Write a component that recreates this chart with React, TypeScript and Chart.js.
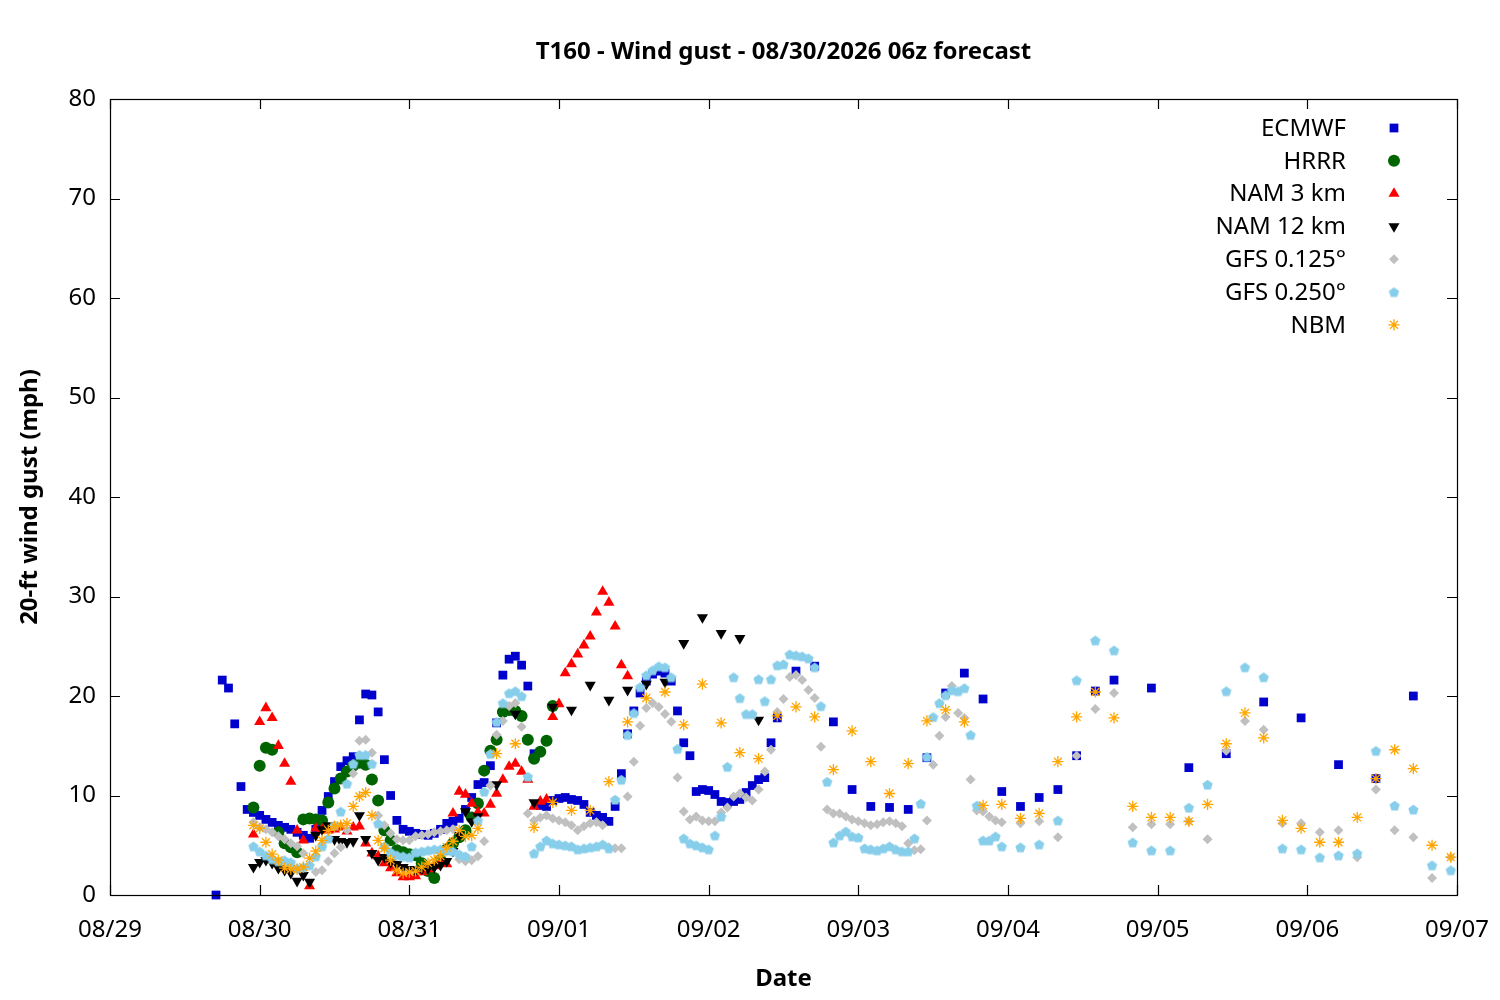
import React, { useEffect, useRef } from "react";
import { Chart, registerables } from "chart.js";
import { drawPoint } from "chart.js/helpers";

Chart.register(...registerables);

// hours since 08/29 00:00 on the x axis, one tick label per day
const dateLabels = ["08/29", "08/30", "08/31", "09/01", "09/02", "09/03", "09/04", "09/05", "09/06", "09/07"];
const yTickValues = [0, 10, 20, 30, 40, 50, 60, 70, 80];

// ECMWF: hourly from h17, 3-hourly from h110, 6-hourly from h167
const ecmwfHourly = [
	0, 21.6, 20.8, 17.2, 10.9, 8.6,
	8.3, 8.0, 7.6, 7.3, 7.0, 6.8, 6.6, 6.3, 6.0, 5.7,
	6.6, 8.5, 9.9, 11.4, 12.9, 13.5, 13.9, 17.6, 20.2, 20.1,
	18.4, 13.6, 10.0, 7.5, 6.6, 6.4, 6.2, 6.1, 6.0, 6.2,
	6.6, 7.2, 7.4, 7.7, 8.6, 9.8, 11.1, 11.3, 13.0, 17.3,
	22.1, 23.7, 24.0, 23.1, 21.0, 14.2, 9.0, 8.9, 9.5, 9.7,
	9.8, 9.6, 9.5, 9.1, 8.3, 8.0, 7.8, 7.4, 8.9, 12.2,
	16.2, 18.5, 20.3, 21.5, 22.2, 22.5, 22.3, 21.5, 18.5, 15.3,
	14.0, 10.4, 10.6, 10.5, 10.1, 9.4, 9.3, 9.4, 9.6, 10.3,
	11.0, 11.6, 11.8, 15.3, 17.8,
];
const ecmwf3h = [22.5, 23.0, 17.4, 10.6, 8.9, 8.8, 8.6, 13.8, 20.3, 22.3, 19.7, 10.4, 8.9, 9.8, 10.6, 14.0, 20.5, 21.6];
const ecmwf6h = [20.8, 12.8, 14.2, 19.4, 17.8, 13.1, 11.7, 20.0];

// HRRR: hourly from h23
const hrrrHourly = [
	8.8, 13.0, 14.8, 14.6, 6.3, 5.2, 4.8, 4.3, 7.6, 7.7,
	7.6, 7.5, 9.3, 10.7, 11.7, 12.4, 13.0, 13.3, 13.1, 11.6,
	9.5, 6.5, 5.5, 4.5, 4.3, 4.1, 4.0, 3.2, 2.4, 1.7,
	3.5, 4.6, 5.2, 5.8, 6.5, 7.8, 9.2, 12.5, 14.5, 15.6,
	18.4, 18.6, 18.5, 18.0, 15.6, 13.7, 14.4, 15.5, 19.0,
];

// NAM 3 km: hourly from h23
const nam3Hourly = [
	6.1, 17.4, 18.8, 17.8, 15.0, 13.2, 11.4, 6.5, 5.5, 0.9,
	6.7, 6.6, 6.5, 6.6, 6.8, 6.4, 6.8, 6.9, 5.2, 4.2,
	3.9, 3.2, 2.7, 2.2, 1.8, 1.8, 1.9, 2.3, 2.6, 2.9,
	3.2, 3.1, 8.2, 10.4, 10.1, 9.2, 8.3, 8.2, 9.1, 10.2,
	11.6, 12.9, 13.2, 12.4, 11.6, 8.9, 9.4, 9.6, 17.9, 19.2,
	22.3, 23.2, 24.2, 25.1, 26.0, 28.4, 30.5, 29.4, 27.0, 23.1,
	22.0,
];

// NAM 12 km: hourly from h23, 3-hourly from h62
const nam12Hourly = [
	2.8, 3.3, 3.5, 3.2, 2.7, 2.5, 2.2, 1.4, 2.0, 1.3,
	6.0, 6.6, 7.0, 5.6, 5.4, 5.3, 5.4, 8.0, 5.6, 4.2,
	3.5, 3.8, 3.3, 3.1, 2.8, 2.6, 2.5, 2.6, 2.7, 2.8,
	3.0, 3.4, 4.4, 6.0, 8.4, 7.4, 7.9,
];
const nam12_3h = [11.1, 18.2, 9.3, 18.9, 18.6, 21.1, 19.6, 20.6, 21.2, 21.4, 25.3, 27.9, 26.3, 25.8, 17.6];

// GFS 0.125°: hourly from h23, 3-hourly from h146
const gfs125Hourly = [
	7.3, 6.8, 6.6, 6.3, 5.9, 5.6, 5.2, 4.9, 4.2, 3.0,
	2.3, 2.5, 3.4, 4.2, 4.8, 6.5, 12.2, 15.5, 15.6, 14.3,
	8.0, 7.0, 6.2, 5.6, 5.5, 5.5, 5.9, 6.0, 6.1, 6.3,
	6.4, 6.5, 6.6, 3.6, 3.4, 3.5, 3.9, 5.4, 11.0, 16.1,
	17.5, 19.0, 19.3, 16.9, 8.2, 7.5, 7.8, 8.0, 7.7, 7.5,
	7.3, 7.0, 6.5, 6.9, 7.2, 7.3, 7.0, 4.8, 4.7, 4.7,
	9.9, 13.4, 17.0, 18.8, 19.3, 18.9, 18.2, 17.4, 11.8, 8.4,
	7.6, 7.9, 7.5, 7.4, 7.4, 8.3, 8.8, 9.9, 10.2, 9.8,
	9.5, 10.6, 12.4, 14.6, 18.4, 19.7, 21.9, 22.1, 21.6, 20.6,
	19.8, 14.9, 8.6, 8.2, 8.2, 7.9, 7.6, 7.4, 7.2, 7.0,
	7.1, 7.3, 7.4, 7.2, 6.9, 5.2, 4.5, 4.6, 7.5, 13.1,
	16.0, 17.9, 21.0, 18.3, 17.8, 11.6, 8.5, 8.4, 7.9, 7.5,
	7.3,
];
const gfs125_3h = [7.2, 7.4, 5.8, 14.0, 18.7, 20.3, 6.8, 7.1, 7.1, 7.4, 5.6, 14.5, 17.5, 16.6, 7.2, 7.2, 6.3, 6.5, 3.8, 10.6, 6.5, 5.8, 1.7, 3.8];

// GFS 0.250°: hourly from h23, 3-hourly from h146
const gfs250Hourly = [
	4.9, 4.4, 4.0, 3.6, 3.4, 3.5, 3.3, 2.7, 2.8, 3.0,
	3.9, 4.9, 5.7, 7.0, 8.4, 11.2, 13.2, 14.1, 14.1, 13.2,
	7.2, 4.9, 4.3, 4.0, 3.9, 3.8, 4.3, 4.4, 4.5, 4.6,
	4.6, 4.5, 4.4, 4.1, 3.9, 4.9, 7.5, 10.4, 14.2, 17.4,
	19.3, 20.3, 20.5, 20.0, 11.9, 4.2, 4.9, 5.5, 5.2, 5.1,
	5.0, 4.9, 4.6, 4.7, 4.8, 4.9, 5.1, 4.7, 9.6, 11.6,
	16.1, 18.3, 20.9, 22.1, 22.6, 23.0, 22.9, 21.9, 14.7, 5.7,
	5.2, 5.0, 4.8, 4.6, 6.0, 7.9, 12.9, 21.9, 19.8, 18.2,
	18.2, 21.7, 19.5, 21.7, 23.1, 23.2, 24.2, 24.1, 24.0, 23.8,
	22.9, 19.0, 11.4, 5.3, 6.0, 6.4, 5.9, 5.8, 4.7, 4.6,
	4.5, 4.7, 4.9, 4.6, 4.4, 4.4, 5.7, 9.2, 13.9, 17.9,
	19.3, 20.1, 20.6, 20.5, 20.8, 16.1, 9.0, 5.5, 5.5, 5.9,
	4.9,
];
const gfs250_3h = [4.8, 5.1, 7.5, 21.6, 25.6, 24.6, 5.3, 4.5, 4.5, 8.8, 11.1, 20.5, 22.9, 21.9, 4.7, 4.6, 3.8, 4.0, 4.2, 14.5, 9.0, 8.6, 3.0, 2.5];

// NBM: hourly from h23, 3-hourly from h62
const nbmHourly = [
	7.0, 6.7, 5.3, 4.1, 3.5, 2.7, 2.6, 2.6, 2.8, 3.7,
	4.4, 5.5, 6.5, 6.9, 7.0, 7.2, 8.9, 9.9, 10.3, 8.0,
	5.5, 4.7, 3.5, 2.5, 2.2, 2.3, 2.4, 2.8, 3.2, 3.5,
	3.9, 4.8, 5.4, 6.5, 5.9, 6.0, 6.7,
];
const nbm3h = [
	14.2, 15.2, 6.8, 9.3, 8.5, 8.5, 11.4, 17.4, 19.8, 20.4,
	17.1, 21.2, 17.3, 14.3, 13.7, 18.0, 18.9, 17.9, 12.6, 16.5,
	13.4, 10.2, 13.2, 17.5, 18.6, 17.4, 9.0, 9.1, 7.7, 8.2,
	13.4, 17.9, 20.4, 17.8, 8.9, 7.8, 7.8, 7.4, 9.1, 15.2,
	18.3, 15.8, 7.5, 6.7, 5.3, 5.3, 7.8, 11.7, 14.6, 12.7,
	5.0, 3.8,
];

const seg = (start: number, step: number, values: number[]) =>
	values.map((v, i) => ({ x: start + i * step, y: v }));

const FONT = "'Noto Sans', 'Open Sans', sans-serif";

function makePentagon(color: string, r: number): HTMLCanvasElement {
	const c = document.createElement("canvas");
	const s = Math.ceil(r * 2) + 2;
	c.width = s;
	c.height = s;
	const ctx = c.getContext("2d");
	if (ctx) {
		ctx.fillStyle = color;
		ctx.beginPath();
		for (let i = 0; i < 5; i++) {
			const a = -Math.PI / 2 + (i * 2 * Math.PI) / 5;
			ctx.lineTo(s / 2 + r * Math.cos(a), s / 2 + 0.6 + r * Math.sin(a));
		}
		ctx.closePath();
		ctx.fill();
	}
	return c;
}

const App: React.FC = () => {
	const chartRef = useRef<HTMLCanvasElement>(null);
	const chartInstance = useRef<Chart | null>(null);

	useEffect(() => {
		document.body.style.margin = "0";
		if (!chartRef.current) return;
		if (chartInstance.current) chartInstance.current.destroy();

		const pentagon = makePentagon("#87CEEB", 5.4);

		const series: any[] = [
			{ label: "ECMWF", data: [...seg(17, 1, ecmwfHourly), ...seg(110, 3, ecmwf3h), ...seg(167, 6, ecmwf6h)], style: "rect", radius: 6.2, color: "#0000CD" },
			{ label: "HRRR", data: seg(23, 1, hrrrHourly), style: "circle", radius: 6, color: "#006400" },
			{ label: "NAM 3 km", data: seg(23, 1, nam3Hourly), style: "triangle", radius: 6.4, color: "#FF0000" },
			{ label: "NAM 12 km", data: [...seg(23, 1, nam12Hourly), ...seg(62, 3, nam12_3h)], style: "triangle", rotation: 180, radius: 6.4, color: "#000000" },
			{ label: "GFS 0.125°", data: [...seg(23, 1, gfs125Hourly), ...seg(146, 3, gfs125_3h)], style: "rectRot", radius: 5, color: "#C0C0C0" },
			{ label: "GFS 0.250°", data: [...seg(23, 1, gfs250Hourly), ...seg(146, 3, gfs250_3h)], style: pentagon, radius: 5, color: "#87CEEB" },
			{ label: "NBM", data: [...seg(23, 1, nbmHourly), ...seg(62, 3, nbm3h)], style: "star", radius: 5.6, color: "#FFA500", stroke: true },
		];

		const framePlugin = {
			id: "gnuFrame",
			afterDraw(chart: any) {
				const { ctx, chartArea: a, scales } = chart;
				ctx.save();
				ctx.strokeStyle = "#000";
				ctx.lineWidth = 1.2;
				ctx.beginPath();
				for (const v of yTickValues) {
					const y = Math.round(scales.y.getPixelForValue(v)) + 0.5;
					ctx.moveTo(a.left, y);
					ctx.lineTo(a.left + 10, y);
					ctx.moveTo(a.right, y);
					ctx.lineTo(a.right - 10, y);
				}
				dateLabels.forEach((_, i) => {
					const x = Math.round(scales.x.getPixelForValue(i * 24)) + 0.5;
					ctx.moveTo(x, a.bottom);
					ctx.lineTo(x, a.bottom - 10);
					ctx.moveTo(x, a.top);
					ctx.lineTo(x, a.top + 10);
				});
				ctx.stroke();
				ctx.strokeRect(Math.round(a.left) + 0.5, Math.round(a.top) + 0.5, Math.round(a.right - a.left), Math.round(a.bottom - a.top));

				ctx.fillStyle = "#000";
				ctx.textBaseline = "middle";
				ctx.textAlign = "center";
				ctx.font = `bold 24px ${FONT}`;
				const cx = (a.left + a.right) / 2;
				ctx.fillText("T160 - Wind gust - 08/30/2026 06z forecast", cx, 52);
				ctx.fillText("Date", cx, 979);
				ctx.save();
				ctx.translate(30, (a.top + a.bottom) / 2);
				ctx.rotate(-Math.PI / 2);
				ctx.fillText("20-ft wind gust (mph)", 0, 0);
				ctx.restore();

				// legend: right-aligned text, marker on the right
				ctx.font = `24px ${FONT}`;
				ctx.textAlign = "right";
				series.forEach((s, i) => {
					const y = 128 + i * 32.8;
					ctx.fillStyle = "#000";
					ctx.fillText(s.label, a.right - 111, y + 1);
					ctx.fillStyle = s.color;
					ctx.strokeStyle = s.color;
					ctx.lineWidth = s.stroke ? 1.3 : 0;
					drawPoint(ctx, { pointStyle: s.style, radius: s.radius, rotation: s.rotation || 0, borderWidth: s.stroke ? 1.3 : 0 }, a.right - 63, y);
				});
				ctx.restore();
			},
		};

		chartInstance.current = new Chart(chartRef.current, {
			type: "scatter",
			data: {
				datasets: series.map((s, i) => ({
					label: s.label,
					data: s.data,
					order: series.length - 1 - i,
					showLine: false,
					clip: false,
					pointStyle: s.style,
					pointRadius: s.radius,
					pointRotation: s.rotation || 0,
					pointBackgroundColor: s.color,
					pointBorderColor: s.color,
					pointBorderWidth: s.stroke ? 1.3 : 0,
				})),
			},
			options: {
				animation: false,
				responsive: true,
				maintainAspectRatio: false,
				layout: { padding: { top: 99, right: 43, left: 0, bottom: 0 } },
				plugins: {
					legend: { display: false },
					title: { display: false },
					tooltip: { enabled: false },
				},
				scales: {
					x: {
						type: "linear",
						min: 0,
						max: 216,
						afterFit: (scale: any) => {
							scale.height = 105;
							scale.paddingLeft = 0;
							scale.paddingRight = 0;
						},
						grid: { display: false, drawTicks: false },
						border: { display: false },
						ticks: {
							stepSize: 24,
							autoSkip: false,
							maxRotation: 0,
							padding: 21,
							color: "#000",
							font: { family: FONT, size: 24 },
							callback: (v: any) => dateLabels[Math.round(Number(v) / 24)] ?? "",
						},
					},
					y: {
						min: 0,
						max: 80,
						afterFit: (scale: any) => {
							scale.width = 110;
							scale.paddingTop = 0;
							scale.paddingBottom = 0;
						},
						grid: { display: false, drawTicks: false },
						border: { display: false },
						ticks: {
							stepSize: 10,
							padding: 14,
							color: "#000",
							font: { family: FONT, size: 24 },
						},
					},
				},
			},
			plugins: [framePlugin],
		});

		return () => {
			if (chartInstance.current) {
				chartInstance.current.destroy();
				chartInstance.current = null;
			}
		};
	}, []);

	return (
		<div style={{ width: 1500, height: 1000, background: "#fff" }}>
			<canvas ref={chartRef}></canvas>
		</div>
	);
};

export default App;
